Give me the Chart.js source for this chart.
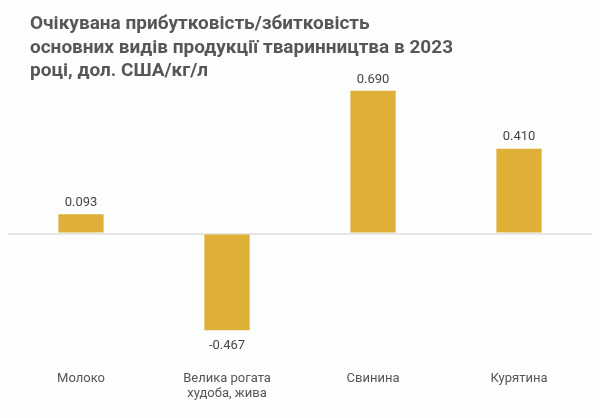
<!DOCTYPE html>
<html>
<head>
<meta charset="utf-8">
<script src="https://cdn.jsdelivr.net/npm/chart.js@4"></script>
<style>
  html, body { margin: 0; padding: 0; background: #fdfefe; }
  #wrap { position: relative; width: 600px; height: 418px; }
  #title {
    position: absolute; left: 30px; top: 11px;
    font-family: Roboto, "Noto Sans", sans-serif; font-weight: 700;
    font-size: 19px; line-height: 23.5px; color: #575757;
  }
  canvas { position: absolute; left: 0; top: 0; }
</style>
</head>
<body>
<div id="wrap">
  <canvas id="chart" width="600" height="418"></canvas>
  <div id="title">Очікувана прибутковість/збитковість<br>основних видів продукції тваринництва в 2023<br>році, дол. США/кг/л</div>
</div>
<script>
const categories = ["Молоко", ["Велика рогата", "худоба, жива"], "Свинина", "Курятина"];
const values = [0.093, -0.467, 0.690, 0.410];
const valueLabels = ["0.093", "-0.467", "0.690", "0.410"];

// draws the value above (or below, for negatives) each bar
const barLabels = {
  id: "barLabels",
  afterDatasetsDraw(chart) {
    const ctx = chart.ctx;
    const meta = chart.getDatasetMeta(0);
    ctx.save();
    ctx.font = "13px Roboto, 'Noto Sans', sans-serif";
    ctx.fillStyle = "#444";
    ctx.textAlign = "center";
    meta.data.forEach((bar, i) => {
      if (values[i] >= 0) {
        ctx.textBaseline = "bottom";
        ctx.fillText(valueLabels[i], bar.x, bar.y - 5);
      } else {
        ctx.textBaseline = "top";
        ctx.fillText(valueLabels[i], bar.x, bar.y + 9);
      }
    });
    ctx.restore();
  }
};

new Chart(document.getElementById("chart"), {
  type: "bar",
  data: {
    labels: categories,
    datasets: [{
      data: values,
      backgroundColor: "#dfb038",
      barPercentage: 0.31,
      categoryPercentage: 1
    }]
  },
  options: {
    responsive: false,
    animation: false,
    layout: { padding: { top: 68, left: 8, right: 8, bottom: 11 } },
    plugins: {
      legend: { display: false },
      tooltip: { enabled: false },
      title: { display: false }
    },
    scales: {
      x: {
        grid: { display: false },
        border: { display: false },
        ticks: {
          color: "#555",
          padding: 5,
          font: { family: "Roboto, 'Noto Sans', sans-serif", size: 13 }
        }
      },
      y: {
        min: -0.6,
        max: 0.8,
        afterFit(scale) { scale.width = 0; },
        ticks: { display: false, stepSize: 0.2 },
        border: { display: false },
        grid: {
          drawTicks: false,
          lineWidth: 2,
          color: (c) => (c.tick && c.tick.value === 0 ? "#e6e6e6" : "rgba(0,0,0,0)")
        }
      }
    }
  },
  plugins: [barLabels]
});
</script>
</body>
</html>
